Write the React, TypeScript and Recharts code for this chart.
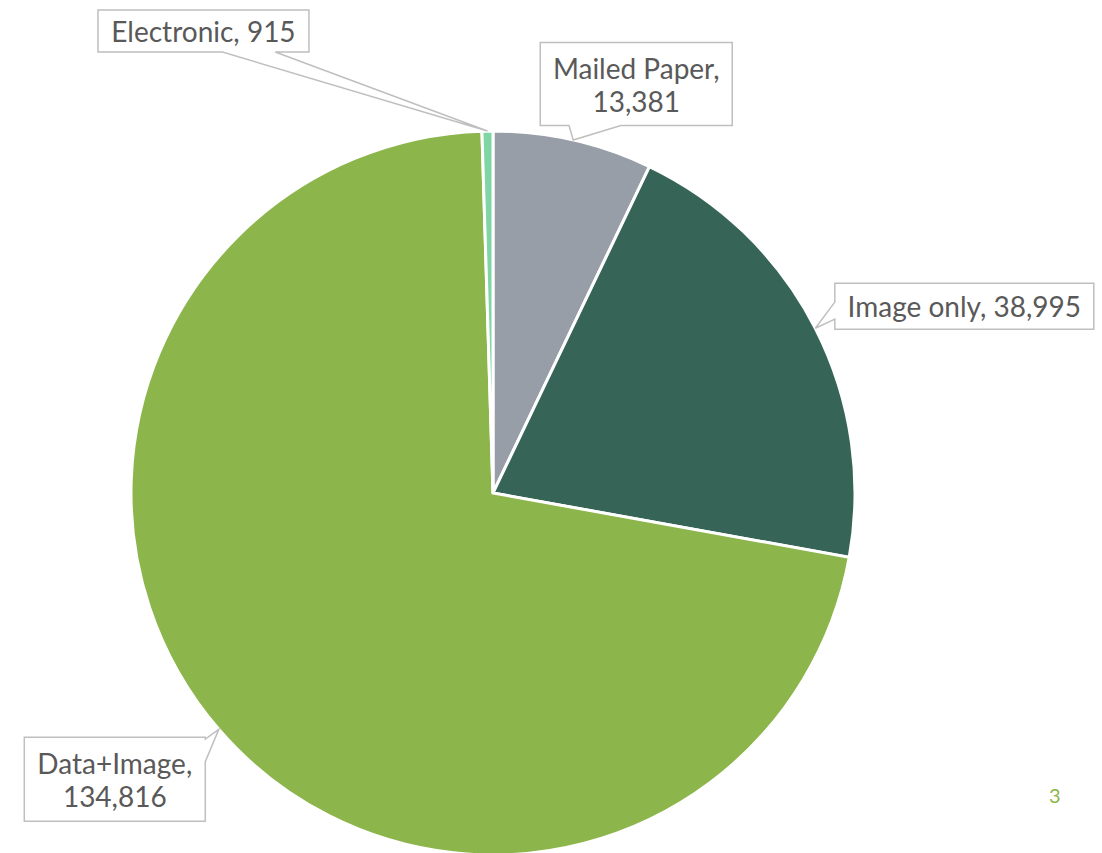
import React from 'react';
import { PieChart, Pie, Cell } from 'recharts';

// ---------------------------------------------------------------------------
// Data
// ---------------------------------------------------------------------------

const CATEGORIES = ['Mailed Paper', 'Image only', 'Data+Image', 'Electronic'];
const COUNTS = [13381, 38995, 134816, 915];
const COLORS = ['#979ea7', '#366557', '#8cb54b', '#7fd5a4'];

// label text split into lines
const LABEL_LINES = [
  ['Mailed Paper,', '13,381'],
  ['Image only, 38,995'],
  ['Data+Image,', '134,816'],
  ['Electronic, 915'],
];

// callout layout: box center offset from slice tip, box size, pointer side and base range
type Side = 'top' | 'bottom' | 'left' | 'right';
const CALLOUTS: { dx: number; dy: number; w: number; h: number; side: Side; a: number; b: number }[] = [
  { dx: 63, dy: -56, w: 192, h: 83, side: 'bottom', a: 0.15, b: 0.42 },
  { dx: 149, dy: -22, w: 259, h: 46, side: 'left', a: 0.41, b: 0.78 },
  { dx: -104, dy: 50, w: 181, h: 84, side: 'right', a: 0.02, b: 0.29 },
  { dx: -284, dy: -100, w: 211, h: 42, side: 'bottom', a: 0.59, b: 0.84 },
];

const chartData = CATEGORIES.map((name, i) => ({ name, value: COUNTS[i] }));

const RAD = Math.PI / 180;
const FONT = 'Lato, "Open Sans", sans-serif';

function calloutPath(x: number, y: number, w: number, h: number, side: Side, a: number, b: number, tx: number, ty: number) {
  const r = x + w;
  const btm = y + h;
  const pts: [number, number][] = [[x, y]];
  if (side === 'top') pts.push([x + w * a, y], [tx, ty], [x + w * b, y]);
  pts.push([r, y]);
  if (side === 'right') pts.push([r, y + h * a], [tx, ty], [r, y + h * b]);
  pts.push([r, btm]);
  if (side === 'bottom') pts.push([x + w * b, btm], [tx, ty], [x + w * a, btm]);
  pts.push([x, btm]);
  if (side === 'left') pts.push([x, y + h * b], [tx, ty], [x, y + h * a]);
  return 'M' + pts.map((p) => `${p[0]},${p[1]}`).join('L') + 'Z';
}

const renderCallout = (props: any) => {
  const { cx, cy, midAngle, outerRadius, index } = props;
  const tx = cx + outerRadius * Math.cos(-midAngle * RAD);
  const ty = cy + outerRadius * Math.sin(-midAngle * RAD);
  const c = CALLOUTS[index];
  const bx = tx + c.dx - c.w / 2;
  const by = ty + c.dy - c.h / 2;
  const lines = LABEL_LINES[index];
  const lineH = 33;
  const firstY = ty + c.dy - ((lines.length - 1) * lineH) / 2;
  return (
    <g key={`callout-${index}`}>
      <path
        d={calloutPath(bx, by, c.w, c.h, c.side, c.a, c.b, tx, ty)}
        fill="#ffffff"
        stroke="#bfbfbf"
        strokeWidth={1.5}
      />
      <text
        x={tx + c.dx}
        y={firstY}
        textAnchor="middle"
        dominantBaseline="central"
        fill="#595959"
        fontSize={28}
        fontFamily={FONT}
      >
        {lines.map((ln, i) => (
          <tspan key={i} x={tx + c.dx} dy={i === 0 ? 0 : lineH}>
            {ln}
          </tspan>
        ))}
      </text>
    </g>
  );
};

export default function App() {
  return (
    <div style={{ width: 1102, height: 853, background: '#ffffff', position: 'relative' }}>
      <style>{`body{margin:0}`}</style>
      <PieChart width={1102} height={853} margin={{ top: 0, right: 0, bottom: 0, left: 0 }}>
        <Pie
          data={chartData}
          dataKey="value"
          nameKey="name"
          cx={493}
          cy={493}
          outerRadius={362}
          startAngle={90}
          endAngle={-270}
          stroke="#ffffff"
          strokeWidth={3}
          label={renderCallout}
          labelLine={false}
          isAnimationActive={false}
        >
          {chartData.map((_, i) => (
            <Cell key={i} fill={COLORS[i]} />
          ))}
        </Pie>
      </PieChart>
      <div
        style={{
          position: 'absolute',
          left: 1049,
          top: 783,
          fontFamily: FONT,
          fontSize: 20,
          color: '#8cb54b',
        }}
      >
        3
      </div>
    </div>
  );
}
